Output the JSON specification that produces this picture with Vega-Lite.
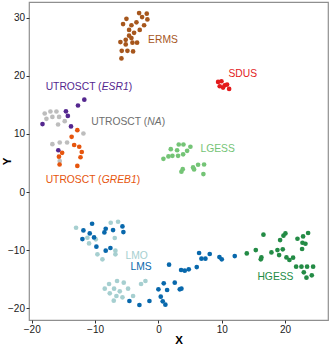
{
  "$schema": "https://vega.github.io/schema/vega-lite/v6.json",
  "width": 299,
  "height": 318,
  "autosize": {"type": "none"},
  "padding": {"left": 29, "top": 2, "right": 3, "bottom": 25},
  "config": {
    "font": "Liberation Sans",
    "view": {"stroke": "#8f8f8f", "strokeWidth": 1.2},
    "axis": {
      "grid": false,
      "domain": false,
      "ticks": true,
      "tickColor": "#333333",
      "tickSize": 3,
      "labelFontSize": 10,
      "labelColor": "#1a1a1a",
      "labelPadding": 1.5,
      "titleFontSize": 11.5,
      "titleFontWeight": "bold",
      "titleColor": "#000000",
      "titleBaseline": "alphabetic"
    }
  },
  "datasets": {
    "points": [
      {"x": -3.05, "y": 30.8, "g": "ERMS"}, {"x": -1.84, "y": 30.7, "g": "ERMS"}, {"x": -2.58, "y": 30.1, "g": "ERMS"},
      {"x": -1.74, "y": 29.7, "g": "ERMS"}, {"x": -5.05, "y": 29.8, "g": "ERMS"}, {"x": -3.47, "y": 29.2, "g": "ERMS"},
      {"x": -5.58, "y": 28.9, "g": "ERMS"}, {"x": -4.26, "y": 28.7, "g": "ERMS"}, {"x": -2.26, "y": 28.7, "g": "ERMS"},
      {"x": -4.63, "y": 27.9, "g": "ERMS"}, {"x": -2.95, "y": 27.9, "g": "ERMS"}, {"x": -3.84, "y": 27.4, "g": "ERMS"},
      {"x": -4.63, "y": 26.9, "g": "ERMS"}, {"x": -6.0, "y": 25.8, "g": "ERMS"}, {"x": -5.16, "y": 26.2, "g": "ERMS"},
      {"x": -5.16, "y": 25.4, "g": "ERMS"}, {"x": -4.26, "y": 26.5, "g": "ERMS"}, {"x": -4.1, "y": 25.7, "g": "ERMS"},
      {"x": -3.37, "y": 25.7, "g": "ERMS"}, {"x": -5.79, "y": 24.3, "g": "ERMS"}, {"x": -4.89, "y": 24.3, "g": "ERMS"},
      {"x": -4.0, "y": 24.2, "g": "ERMS"}, {"x": -5.84, "y": 23.0, "g": "ERMS"},

      {"x": 9.42, "y": 18.96, "g": "SDUS"}, {"x": 9.95, "y": 19.07, "g": "SDUS"}, {"x": 9.68, "y": 18.21, "g": "SDUS"},
      {"x": 10.21, "y": 17.98, "g": "SDUS"}, {"x": 10.47, "y": 18.38, "g": "SDUS"}, {"x": 10.84, "y": 18.5, "g": "SDUS"},
      {"x": 11.16, "y": 17.75, "g": "SDUS"},

      {"x": -11.7, "y": 15.9, "g": "ESR1"}, {"x": -12.7, "y": 14.9, "g": "ESR1"}, {"x": -14.6, "y": 13.9, "g": "ESR1"},
      {"x": -14.3, "y": 13.1, "g": "ESR1"}, {"x": -13.8, "y": 11.3, "g": "ESR1"}, {"x": -18.3, "y": 11.7, "g": "ESR1"},
      {"x": -15.8, "y": 7.2, "g": "ESR1"},

      {"x": -17.95, "y": 13.52, "g": "NA"}, {"x": -17.05, "y": 13.86, "g": "NA"}, {"x": -16.1, "y": 13.86, "g": "NA"},
      {"x": -17.68, "y": 12.6, "g": "NA"}, {"x": -16.74, "y": 12.94, "g": "NA"}, {"x": -15.68, "y": 12.94, "g": "NA"},
      {"x": -14.79, "y": 12.2, "g": "NA"}, {"x": -15.84, "y": 11.63, "g": "NA"}, {"x": -11.84, "y": 10.08, "g": "NA"},
      {"x": -16.74, "y": 8.25, "g": "NA"}, {"x": -15.58, "y": 8.53, "g": "NA"}, {"x": -14.42, "y": 8.53, "g": "NA"},
      {"x": -15.58, "y": 5.33, "g": "NA"},

      {"x": -12.8, "y": 10.65, "g": "GREB1"}, {"x": -13.7, "y": 9.5, "g": "GREB1"}, {"x": -13.3, "y": 8.1, "g": "GREB1"},
      {"x": -12.5, "y": 7.8, "g": "GREB1"}, {"x": -12.1, "y": 6.9, "g": "GREB1"}, {"x": -15.2, "y": 6.75, "g": "GREB1"},
      {"x": -15.7, "y": 6.1, "g": "GREB1"}, {"x": -12.3, "y": 6.0, "g": "GREB1"}, {"x": -15.6, "y": 4.75, "g": "GREB1"},
      {"x": -12.8, "y": 4.5, "g": "GREB1"},

      {"x": 0.79, "y": 5.73, "g": "LGESS"}, {"x": 1.58, "y": 6.13, "g": "LGESS"}, {"x": 2.21, "y": 6.24, "g": "LGESS"},
      {"x": 1.95, "y": 7.39, "g": "LGESS"}, {"x": 2.95, "y": 7.2, "g": "LGESS"}, {"x": 3.21, "y": 8.19, "g": "LGESS"},
      {"x": 3.95, "y": 8.19, "g": "LGESS"}, {"x": 3.1, "y": 6.24, "g": "LGESS"}, {"x": 3.9, "y": 6.5, "g": "LGESS"},
      {"x": 4.53, "y": 7.1, "g": "LGESS"}, {"x": 5.05, "y": 7.8, "g": "LGESS"}, {"x": 3.63, "y": 3.5, "g": "LGESS"},
      {"x": 3.84, "y": 3.95, "g": "LGESS"}, {"x": 5.47, "y": 4.24, "g": "LGESS"}, {"x": 5.63, "y": 3.9, "g": "LGESS"},
      {"x": 6.26, "y": 4.7, "g": "LGESS"}, {"x": 7.21, "y": 4.75, "g": "LGESS"}, {"x": 7.1, "y": 3.1, "g": "LGESS"},

      {"x": -13.0, "y": -6.13, "g": "LMO"}, {"x": -11.21, "y": -7.85, "g": "LMO"}, {"x": -10.95, "y": -8.82, "g": "LMO"},
      {"x": -9.89, "y": -8.13, "g": "LMO"}, {"x": -7.53, "y": -5.27, "g": "LMO"}, {"x": -6.37, "y": -5.1, "g": "LMO"},
      {"x": -6.89, "y": -7.9, "g": "LMO"}, {"x": -6.79, "y": -10.08, "g": "LMO"}, {"x": -6.79, "y": -10.71, "g": "LMO"},
      {"x": -9.63, "y": -10.71, "g": "LMO"}, {"x": -8.84, "y": -11.57, "g": "LMO"},
      {"x": -7.79, "y": -15.81, "g": "LMO"}, {"x": -6.53, "y": -15.29, "g": "LMO"}, {"x": -5.47, "y": -15.58, "g": "LMO"},
      {"x": -8.47, "y": -16.61, "g": "LMO"}, {"x": -7.0, "y": -16.61, "g": "LMO"}, {"x": -6.1, "y": -17.07, "g": "LMO"},
      {"x": -7.68, "y": -17.41, "g": "LMO"}, {"x": -6.63, "y": -17.87, "g": "LMO"}, {"x": -5.68, "y": -18.1, "g": "LMO"},
      {"x": -4.0, "y": -17.87, "g": "LMO"}, {"x": -7.05, "y": -18.67, "g": "LMO"}, {"x": -2.74, "y": -15.81, "g": "LMO"},
      {"x": -2.05, "y": -15.29, "g": "LMO"}, {"x": -4.79, "y": -16.61, "g": "LMO"},

      {"x": -10.47, "y": -5.44, "g": "LMS"}, {"x": -11.84, "y": -6.59, "g": "LMS"}, {"x": -10.84, "y": -7.1, "g": "LMS"},
      {"x": -10.16, "y": -7.79, "g": "LMS"}, {"x": -12.0, "y": -8.08, "g": "LMS"}, {"x": -8.53, "y": -6.93, "g": "LMS"},
      {"x": -8.32, "y": -6.3, "g": "LMS"}, {"x": -7.16, "y": -6.53, "g": "LMS"}, {"x": -5.68, "y": -5.9, "g": "LMS"},
      {"x": -5.53, "y": -6.87, "g": "LMS"}, {"x": -9.79, "y": -9.39, "g": "LMS"}, {"x": -8.32, "y": -10.08, "g": "LMS"},
      {"x": -7.58, "y": -9.62, "g": "LMS"},
      {"x": 1.68, "y": -12.49, "g": "LMS"}, {"x": 3.58, "y": -13.4, "g": "LMS"}, {"x": 4.16, "y": -13.52, "g": "LMS"},
      {"x": 4.79, "y": -13.29, "g": "LMS"}, {"x": 6.05, "y": -12.89, "g": "LMS"}, {"x": 6.42, "y": -10.48, "g": "LMS"},
      {"x": 6.79, "y": -11.45, "g": "LMS"}, {"x": 7.42, "y": -11.45, "g": "LMS"}, {"x": 8.1, "y": -10.65, "g": "LMS"},
      {"x": 9.63, "y": -11.17, "g": "LMS"}, {"x": 10.0, "y": -11.57, "g": "LMS"}, {"x": 12.05, "y": -11.0, "g": "LMS"},
      {"x": -4.58, "y": -18.73, "g": "LMS"}, {"x": -3.0, "y": -19.42, "g": "LMS"}, {"x": -1.42, "y": -18.73, "g": "LMS"},
      {"x": 0.0, "y": -16.72, "g": "LMS"}, {"x": 0.84, "y": -15.69, "g": "LMS"}, {"x": 0.37, "y": -17.98, "g": "LMS"},
      {"x": 0.68, "y": -18.79, "g": "LMS"}, {"x": 1.1, "y": -19.36, "g": "LMS"}, {"x": 1.37, "y": -16.84, "g": "LMS"},
      {"x": 2.58, "y": -15.58, "g": "LMS"}, {"x": 3.37, "y": -16.72, "g": "LMS"}, {"x": 3.63, "y": -16.61, "g": "LMS"},

      {"x": 13.95, "y": -10.54, "g": "HGESS"}, {"x": 15.37, "y": -9.97, "g": "HGESS"}, {"x": 16.58, "y": -7.33, "g": "HGESS"},
      {"x": 16.26, "y": -11.23, "g": "HGESS"}, {"x": 16.16, "y": -11.57, "g": "HGESS"}, {"x": 17.84, "y": -10.37, "g": "HGESS"},
      {"x": 18.79, "y": -9.97, "g": "HGESS"}, {"x": 19.05, "y": -10.83, "g": "HGESS"}, {"x": 19.21, "y": -8.25, "g": "HGESS"},
      {"x": 19.63, "y": -9.85, "g": "HGESS"}, {"x": 19.74, "y": -7.5, "g": "HGESS"}, {"x": 20.05, "y": -7.1, "g": "HGESS"},
      {"x": 20.21, "y": -11.23, "g": "HGESS"}, {"x": 20.68, "y": -11.68, "g": "HGESS"}, {"x": 21.26, "y": -11.28, "g": "HGESS"},
      {"x": 21.74, "y": -12.83, "g": "HGESS"}, {"x": 22.58, "y": -12.83, "g": "HGESS"}, {"x": 23.47, "y": -12.83, "g": "HGESS"},
      {"x": 24.42, "y": -12.83, "g": "HGESS"}, {"x": 22.95, "y": -13.8, "g": "HGESS"}, {"x": 23.37, "y": -14.72, "g": "HGESS"},
      {"x": 24.21, "y": -14.32, "g": "HGESS"}, {"x": 21.95, "y": -8.02, "g": "HGESS"}, {"x": 22.84, "y": -7.62, "g": "HGESS"},
      {"x": 23.63, "y": -7.04, "g": "HGESS"}, {"x": 22.74, "y": -8.71, "g": "HGESS"}, {"x": 23.21, "y": -8.88, "g": "HGESS"},
      {"x": 22.68, "y": -9.79, "g": "HGESS"}
    ],
    "labels": [
      {"t": "ERMS", "x": -1.63, "y": 26.1, "g": "ERMS"},
      {"t": "SDUS", "x": 11.05, "y": 20.3, "g": "SDUS"},
      {"t": "UTROSCT (", "x": -17.8, "y": 18.0, "g": "ESR1"},
      {"t": ")", "x": -4.7, "y": 18.0, "g": "ESR1"},
      {"t": "UTROSCT (", "x": -10.6, "y": 12.0, "g": "NA label"},
      {"t": ")", "x": 0.51, "y": 12.0, "g": "NA label"},
      {"t": "UTROSCT (", "x": -17.8, "y": 2.0, "g": "GREB1"},
      {"t": ")", "x": -3.44, "y": 2.0, "g": "GREB1"},
      {"t": "LGESS", "x": 6.63, "y": 7.5, "g": "LGESS"},
      {"t": "LMO", "x": -5.21, "y": -11.0, "g": "LMO"},
      {"t": "LMS", "x": -4.42, "y": -12.83, "g": "LMS"},
      {"t": "HGESS", "x": 15.63, "y": -14.66, "g": "HGESS"}
    ],
    "genes": [
      {"t": "ESR1", "x": -8.95, "y": 18.0, "g": "ESR1"},
      {"t": "NA", "x": -1.75, "y": 12.0, "g": "NA label"},
      {"t": "GREB1", "x": -8.95, "y": 2.0, "g": "GREB1"}
    ]
  },
  "encoding": {
    "x": {
      "field": "x", "type": "quantitative", "title": "X",
      "scale": {"domain": [-20.43, 26.77], "nice": false, "zero": false},
      "axis": {"values": [-20, -10, 0, 10, 20], "titlePadding": 9}
    },
    "y": {
      "field": "y", "type": "quantitative", "title": "Y",
      "scale": {"domain": [-22.0, 32.7], "nice": false, "zero": false},
      "axis": {"values": [-20, -10, 0, 10, 20, 30], "titlePadding": -3}
    },
    "color": {
      "field": "g", "type": "nominal", "legend": null,
      "scale": {
        "domain": ["ERMS", "SDUS", "ESR1", "NA", "NA label", "GREB1", "LGESS", "LMO", "LMS", "HGESS"],
        "range": ["#a6561c", "#e31a1c", "#54278f", "#bdbdbd", "#6e6e6e", "#e6550d", "#74c476", "#a6cfd0", "#0868ac", "#238b45"]
      }
    }
  },
  "layer": [
    {
      "data": {"name": "points"},
      "mark": {"type": "circle", "size": 22, "opacity": 1}
    },
    {
      "data": {"name": "labels"},
      "mark": {"type": "text", "align": "left", "baseline": "middle", "fontSize": 10.3},
      "encoding": {"text": {"field": "t"}}
    },
    {
      "data": {"name": "genes"},
      "mark": {"type": "text", "align": "left", "baseline": "middle", "fontSize": 10.3, "fontStyle": "italic"},
      "encoding": {"text": {"field": "t"}}
    }
  ]
}
